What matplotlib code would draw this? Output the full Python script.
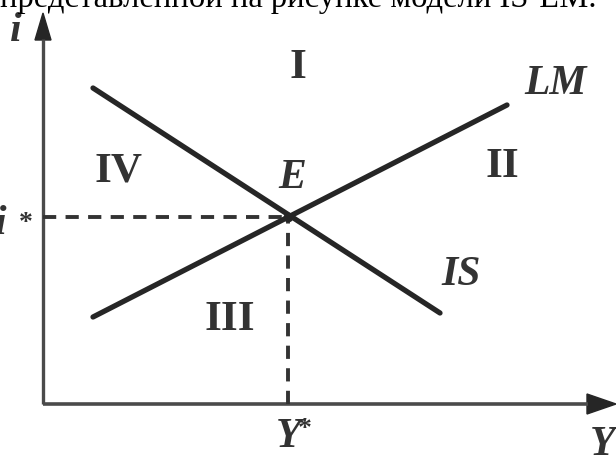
import matplotlib.pyplot as plt

# координаты в пикселях от начала осей (Y вправо, i вверх)
is_Y = [50, 397]
is_i = [316, 91]
lm_Y = [50, 464]
lm_i = [87, 299]
E_Y, E_i = 245, 187

regions = ['I', 'II', 'III', 'IV']
region_Y = [255, 459, 187, 76]
region_i = [336, 237, 84, 232]

plt.rcParams['font.family'] = ['Liberation Serif', 'DejaVu Serif']

fig = plt.figure(figsize=(6.16, 4.57), dpi=100)
ax = fig.add_axes([0, 0, 1, 1])
ax.set_xlim(-43, 573)
ax.set_ylim(-53, 404)
ax.axis('off')

ink = '#262626'

# оси
ax.plot([0, 0], [0, 365], color='#4a4a4a', lw=2.4, solid_capstyle='butt')
ax.plot([0, 545], [0, 0], color='#4a4a4a', lw=2.6, solid_capstyle='butt')
ax.fill([-8, 8, 0], [364, 364, 391], color=ink)
ax.fill([544, 544, 573], [-10, 10, 0], color=ink)

# пунктир
ax.plot([0, E_Y], [E_i, E_i], color='#333333', lw=2.8, dashes=[3.4, 2.4])
ax.plot([E_Y, E_Y], [0, E_i], color='#333333', lw=2.8, dashes=[3.4, 2.4])

# кривые
ax.plot(is_Y, is_i, color=ink, lw=3.8, solid_capstyle='round')
ax.plot(lm_Y, lm_i, color=ink, lw=3.8, solid_capstyle='round')
ax.plot([E_Y], [E_i], 'o', color=ink, ms=6)

for r, x, y in zip(regions, region_Y, region_i):
    ax.text(x, y, r, fontsize=31, fontweight='bold', color='#333333',
            ha='center', va='center')

lab = dict(fontsize=30, fontweight='bold', style='italic', color='#333333',
           ha='center', va='center')
ax.text(249, 226, 'E', **lab)
ax.text(418, 129, 'IS', **lab)
ax.text(512, 320, 'LM', **lab)
ax.text(246, -33, 'Y', **lab)
ax.text(262, -25, '*', fontsize=20, fontweight='bold', color='#333333',
        ha='center', va='center')
ax.text(560, -41, 'Y', **lab)
ax.text(-27, 373, 'i', **lab)
ax.text(-42, 180, 'i', **lab)
ax.text(-17, 180, '*', fontsize=20, fontweight='bold', color='#333333',
        ha='center', va='center')

fig.text(0.0, 1 - 7 / 457, 'представленной на рисунке модели IS-LM.',
         fontsize=23.5, ha='left', va='baseline', color='black')

fig.savefig('out.png', dpi=100)
